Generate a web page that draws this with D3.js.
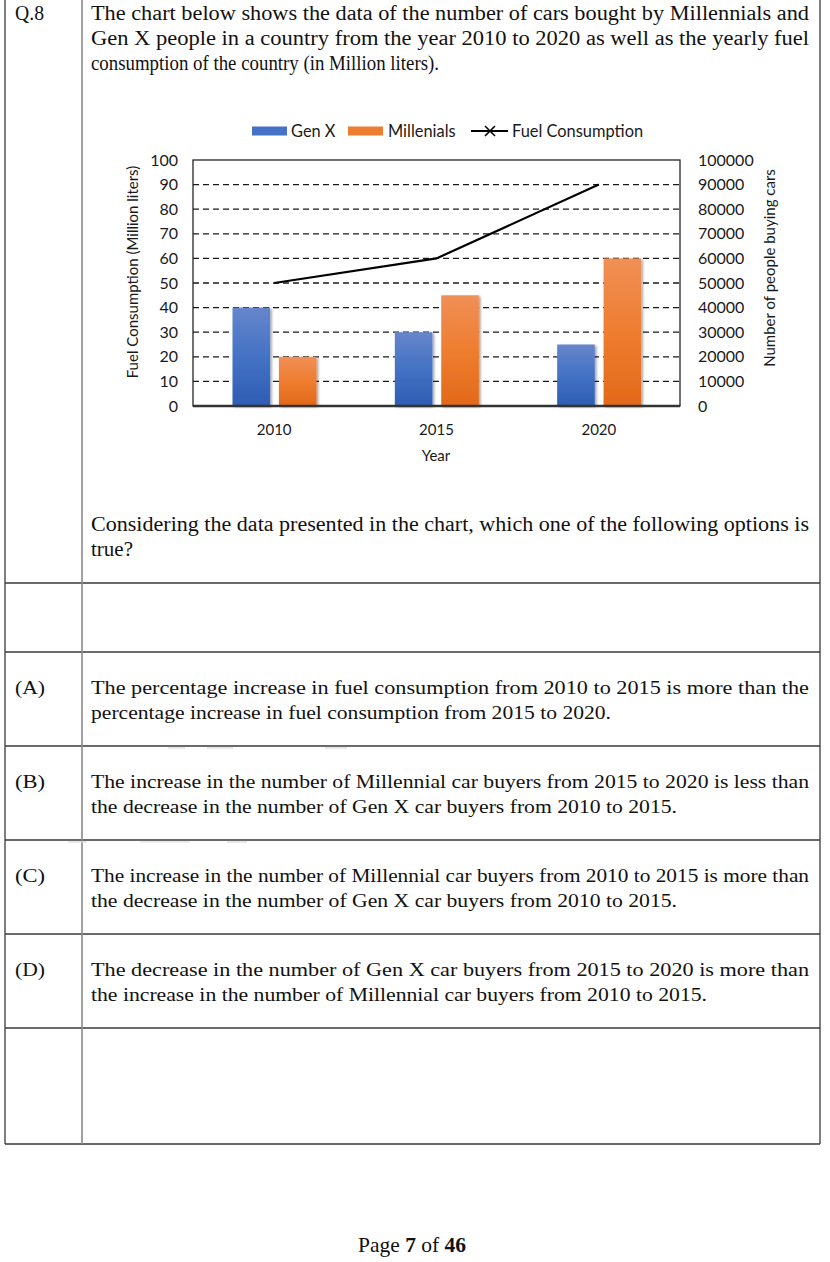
<!DOCTYPE html>
<html><head><meta charset="utf-8">
<script src="https://cdn.jsdelivr.net/npm/d3@7"></script>
<style>body{margin:0;background:#fff} svg{display:block}</style>
</head><body>
<script>
// ---- data ----
const years = ["2010", "2015", "2020"];
const seriesNames = ["Gen X", "Millenials"];
const genX = [40000, 30000, 25000];
const millenials = [20000, 45000, 60000];
const fuel = [50, 60, 90];
const leftTicks = [0, 10, 20, 30, 40, 50, 60, 70, 80, 90, 100];
const rightTicks = [0, 10000, 20000, 30000, 40000, 50000, 60000, 70000, 80000, 90000, 100000];

const questionLines = [
  "The chart below shows the data of the number of cars bought by Millennials and",
  "Gen X people in a country from the year 2010 to 2020 as well as the yearly fuel",
  "consumption of the country (in Million liters)."
];
const promptLines = [
  "Considering the data presented in the chart, which one of the following options is",
  "true?"
];
const options = [
  ["(A)", "The percentage increase in fuel consumption from 2010 to 2015 is more than the",
          "percentage increase in fuel consumption from 2015 to 2020."],
  ["(B)", "The increase in the number of Millennial car buyers from 2015 to 2020 is less than",
          "the decrease in the number of Gen X car buyers from 2010 to 2015."],
  ["(C)", "The increase in the number of Millennial car buyers from 2010 to 2015 is more than",
          "the decrease in the number of Gen X car buyers from 2010 to 2015."],
  ["(D)", "The decrease in the number of Gen X car buyers from 2015 to 2020 is more than",
          "the increase in the number of Millennial car buyers from 2010 to 2015."]
];
const optionLastWidths = [520, 586, 586, 616];

const W = 830, H = 1262;
const svg = d3.select("body").append("svg").attr("width", W).attr("height", H);
const serif = "'Liberation Serif','Times New Roman',serif";
const sans = "Lato,'Open Sans',sans-serif";

// ---- table ----
const tL = 5, tR = 820, tC = 82, tB = 1144;
const rows = [583, 652, 746, 840, 934, 1028, 1144];
const tbl = svg.append("g");
tbl.selectAll("line.h").data(rows).join("line")
  .attr("x1", tL).attr("x2", tR).attr("y1", d => d).attr("y2", d => d)
  .attr("stroke", "#3a3a3a").attr("stroke-width", 1.3);
tbl.append("line").attr("x1", tL).attr("x2", tL).attr("y1", 0).attr("y2", tB).attr("stroke", "#3a3a3a").attr("stroke-width", 1.3);
tbl.append("line").attr("x1", tR).attr("x2", tR).attr("y1", 0).attr("y2", tB).attr("stroke", "#3a3a3a").attr("stroke-width", 1.3);
tbl.append("line").attr("x1", tC).attr("x2", tC).attr("y1", 0).attr("y2", tB).attr("stroke", "#8a8a8a").attr("stroke-width", 1.6);
const faint = [[168,185,748],[207,233,748],[325,347,748],[68,87,842],[140,190,842],[227,247,842]];
tbl.selectAll("line.f").data(faint).join("line")
  .attr("x1", d => d[0]).attr("x2", d => d[1]).attr("y1", d => d[2]).attr("y2", d => d[2])
  .attr("stroke", "#d8d8d8").attr("stroke-width", 1.2);

// ---- text helper ----
const textX = 91, textW = 718;
function txt(x, y, t, w, size) {
  const el = svg.append("text").attr("x", x).attr("y", y)
    .attr("font-family", serif).attr("font-size", size || 19.5).attr("fill", "#111").text(t);
  if (w) el.attr("textLength", w).attr("lengthAdjust", "spacingAndGlyphs");
  return el;
}
const qfs = 20.5;
txt(15, 20, "Q.8", 29, qfs);
txt(textX, 20, questionLines[0], textW, qfs);
txt(textX, 45, questionLines[1], textW, qfs);
txt(textX, 70, questionLines[2], 348, qfs);
txt(textX, 531, promptLines[0], textW, qfs);
txt(textX, 555.5, promptLines[1], 42, qfs);
options.forEach((o, i) => {
  const y = 694 + i * 94;
  txt(15, y, o[0], 30);
  txt(textX, y, o[1], textW);
  txt(textX, y + 25, o[2], optionLastWidths[i]);
});
const foot = svg.append("text").attr("x", 412).attr("y", 1252).attr("text-anchor", "middle")
  .attr("font-family", serif).attr("font-size", 21.5).attr("fill", "#111");
foot.append("tspan").text("Page ");
foot.append("tspan").attr("font-weight", "bold").text("7");
foot.append("tspan").text(" of ");
foot.append("tspan").attr("font-weight", "bold").text("46");

// ---- chart ----
const pL = 193, pR = 680, pT = 160, pB = 406;
const x = d3.scaleBand().domain(years).range([pL, pR]).paddingInner(0).paddingOuter(0);
const x1 = d3.scaleBand().domain(seriesNames).range([39.5, 123.5]).paddingInner(0.19).paddingOuter(0);
const yL = d3.scaleLinear().domain([0, 100]).range([pB, pT]);
const yR = d3.scaleLinear().domain([0, 100000]).range([pB, pT]);

const defs = svg.append("defs");
function grad(id, top, mid, bot) {
  const g = defs.append("linearGradient").attr("id", id).attr("x1", 0).attr("y1", 0).attr("x2", 0).attr("y2", 1);
  g.append("stop").attr("offset", "0%").attr("stop-color", top);
  g.append("stop").attr("offset", "50%").attr("stop-color", mid);
  g.append("stop").attr("offset", "100%").attr("stop-color", bot);
}
grad("gBlue", "#6686cc", "#4472c4", "#2e5db3");
grad("gOrange", "#f08f57", "#ee7d2f", "#e2691a");
const sh = defs.append("filter").attr("id", "shadow").attr("x", "-20%").attr("y", "-20%").attr("width", "150%").attr("height", "150%");
sh.append("feDropShadow").attr("dx", 1.8).attr("dy", 1.2).attr("stdDeviation", 1.1).attr("flood-color", "#000").attr("flood-opacity", 0.35);

const chart = svg.append("g");
chart.append("rect").attr("x", pL).attr("y", pT).attr("width", pR - pL).attr("height", pB - pT)
  .attr("fill", "none").attr("stroke", "#262626").attr("stroke-width", 1.3);
chart.selectAll("line.grid").data(leftTicks.filter(d => d > 0 && d < 100)).join("line")
  .attr("x1", pL).attr("x2", pR).attr("y1", d => yL(d)).attr("y2", d => yL(d))
  .attr("stroke", "#1a1a1a").attr("stroke-width", 1.3).attr("stroke-dasharray", "6,4");

const barData = [];
years.forEach((yr, i) => {
  barData.push({ yr, s: "Gen X", v: genX[i] });
  barData.push({ yr, s: "Millenials", v: millenials[i] });
});
chart.selectAll("rect.bar").data(barData).join("rect")
  .attr("x", d => x(d.yr) + x1(d.s)).attr("width", x1.bandwidth())
  .attr("y", d => yR(d.v)).attr("height", d => pB - yR(d.v))
  .attr("fill", d => d.s === "Gen X" ? "url(#gBlue)" : "url(#gOrange)")
  .attr("filter", "url(#shadow)");

chart.append("line").attr("x1", pL).attr("x2", pR).attr("y1", pB).attr("y2", pB)
  .attr("stroke", "#333").attr("stroke-width", 2.4);

const line = d3.line().x((d, i) => x(years[i]) + x.bandwidth() / 2).y(d => yL(d));
chart.append("path").datum(fuel).attr("d", line).attr("fill", "none")
  .attr("stroke", "#000").attr("stroke-width", 2.2);

const la = chart.append("g").attr("transform", `translate(${pL},0)`)
  .call(d3.axisLeft(yL).tickValues(leftTicks).tickSize(0).tickPadding(15));
const ra = chart.append("g").attr("transform", `translate(${pR},0)`)
  .call(d3.axisRight(yR).tickValues(rightTicks).tickFormat(d3.format("d")).tickSize(0).tickPadding(18));
const ba = chart.append("g").attr("transform", `translate(0,${pB})`)
  .call(d3.axisBottom(x).tickSize(0).tickPadding(18));
[la, ra].forEach(a => {
  a.select(".domain").remove();
  a.selectAll("text").attr("font-family", sans).attr("font-size", 16).attr("fill", "#1a1a1a");
});
ba.select(".domain").remove();
ba.selectAll("text").attr("font-family", sans).attr("font-size", 15).attr("fill", "#1a1a1a");

chart.append("text").attr("transform", "translate(138,272) rotate(-90)").attr("text-anchor", "middle")
  .attr("font-family", sans).attr("font-size", 15).attr("fill", "#1a1a1a").text("Fuel Consumption (Million liters)");
chart.append("text").attr("transform", "translate(775,268) rotate(-90)").attr("text-anchor", "middle")
  .attr("font-family", sans).attr("font-size", 15).attr("fill", "#1a1a1a").text("Number of people buying cars");
chart.append("text").attr("x", 436).attr("y", 461).attr("text-anchor", "middle")
  .attr("font-family", sans).attr("font-size", 15).attr("fill", "#1a1a1a").text("Year");

const lg = chart.append("g");
const lgY = 131, lfs = 16.4;
lg.append("rect").attr("x", 252).attr("y", lgY - 4.5).attr("width", 35).attr("height", 9).attr("fill", "#4472c4");
lg.append("text").attr("x", 291).attr("y", lgY).attr("dy", "0.35em").attr("font-family", sans).attr("font-size", lfs).attr("fill", "#1a1a1a").text("Gen X");
lg.append("rect").attr("x", 348).attr("y", lgY - 4.5).attr("width", 35).attr("height", 9).attr("fill", "#ed7d31");
lg.append("text").attr("x", 388).attr("y", lgY).attr("dy", "0.35em").attr("font-family", sans).attr("font-size", lfs).attr("fill", "#1a1a1a").text("Millenials");
lg.append("line").attr("x1", 471).attr("x2", 508).attr("y1", lgY).attr("y2", lgY).attr("stroke", "#000").attr("stroke-width", 2);
lg.append("path").attr("d", `M485,${lgY-5}L495,${lgY+5}M485,${lgY+5}L495,${lgY-5}`).attr("stroke", "#000").attr("stroke-width", 1.6);
lg.append("text").attr("x", 512).attr("y", lgY).attr("dy", "0.35em").attr("font-family", sans).attr("font-size", lfs).attr("fill", "#1a1a1a").text("Fuel Consumption");
</script>
</body></html>
